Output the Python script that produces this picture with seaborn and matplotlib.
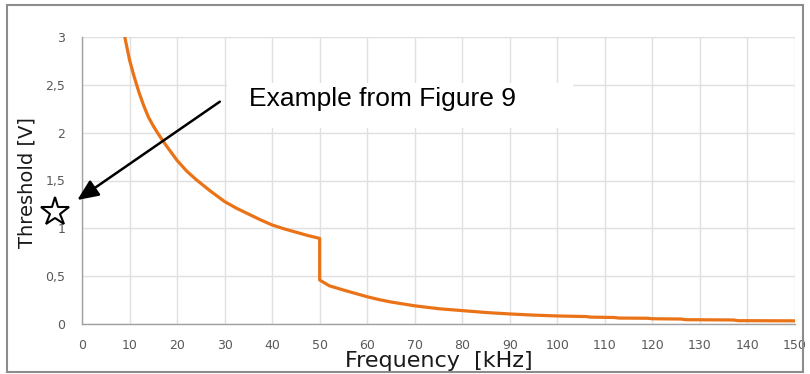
import matplotlib
matplotlib.use("Agg")
import matplotlib.pyplot as plt
from matplotlib.patches import Rectangle
import pandas as pd
import seaborn as sns

# Threshold curve: frequency (kHz) vs threshold (V)
freq_khz = [9, 10, 11, 12, 13, 14, 15, 16, 17.5, 20, 22, 24, 27, 30, 32.5,
            35, 37.5, 40, 42.5, 45, 47.5, 50, 50, 52, 55, 57.5, 60, 62.5, 65,
            67.5, 70, 75, 80, 85, 90, 95, 100, 106, 107, 112, 113, 119, 120,
            126, 127, 137, 138, 150]
threshold_v = [3.00, 2.76, 2.58, 2.42, 2.28, 2.16, 2.07, 1.99, 1.88, 1.71,
               1.60, 1.51, 1.39, 1.28, 1.21, 1.15, 1.09, 1.035, 0.995, 0.96,
               0.925, 0.895, 0.46, 0.40, 0.355, 0.32, 0.285, 0.255, 0.23,
               0.21, 0.19, 0.16, 0.14, 0.12, 0.105, 0.093, 0.084, 0.078,
               0.072, 0.068, 0.062, 0.060, 0.055, 0.052, 0.045, 0.042, 0.035,
               0.033]

x_ticks = list(range(0, 151, 10))
y_ticks = [0, 0.5, 1, 1.5, 2, 2.5, 3]
y_tick_labels = ["0", "0,5", "1", "1,5", "2", "2,5", "3"]

annotation_text = "Example from Figure 9"
example_point = (-5.6, 1.17)

df = pd.DataFrame({"Frequency": freq_khz, "Threshold": threshold_v})

sns.set_style("white")
plt.rcParams["font.family"] = ["DejaVu Sans"]

fig = plt.figure(figsize=(8.1, 3.74), dpi=100)
ax = fig.add_axes([82 / 810, 1 - 324 / 374, (795 - 82) / 810, (324 - 37) / 374])

sns.lineplot(data=df, x="Frequency", y="Threshold", ax=ax, color="#EA7317",
             linewidth=2.3, estimator=None, sort=False, zorder=3)

ax.set_xlim(0, 150)
ax.set_ylim(0, 3)
ax.set_xticks(x_ticks)
ax.set_yticks(y_ticks)
ax.set_yticklabels(y_tick_labels)
ax.set_xlabel("")
ax.set_ylabel("")

ax.set_axisbelow(True)
ax.grid(True, color="#E0E0E0", linewidth=1.0)
for side in ("top", "right"):
    ax.spines[side].set_visible(False)
for side in ("left", "bottom"):
    ax.spines[side].set_color("#A0A0A0")
    ax.spines[side].set_linewidth(1.0)
ax.tick_params(axis="both", direction="out", length=4, width=1,
               color="#A0A0A0", labelcolor="#595959", labelsize=9)
ax.tick_params(axis="x", pad=7)
ax.tick_params(axis="y", pad=8)

# white label box over the grid
ax.add_patch(Rectangle((30.5, 2.05), 72.8, 0.47, facecolor="white",
                       edgecolor="none", zorder=1))
ax.text(35.1, 2.279, annotation_text, family="Liberation Sans", fontsize=19,
        color="black", va="baseline", ha="left", zorder=4)

ax.annotate("", xy=(-0.99, 1.296), xytext=(29.0, 2.324),
            arrowprops=dict(arrowstyle="-|>,head_length=0.8,head_width=0.35",
                            color="black", lw=1.8, mutation_scale=16,
                            shrinkA=0, shrinkB=0),
            annotation_clip=False, zorder=5)

ax.plot([example_point[0]], [example_point[1]], marker="*", markersize=21.5,
        markerfacecolor="white", markeredgecolor="black",
        markeredgewidth=1.5, clip_on=False, zorder=6)

fig.text(438.5 / 810, 1 - 366.7 / 374, "Frequency  [kHz]", fontsize=16,
         ha="center", va="baseline", color="#1a1a1a")
fig.text(27 / 810, 0.511, "Threshold [V]", fontsize=14, rotation=90,
         ha="center", va="center", color="#1a1a1a")

fig.add_artist(Rectangle((7 / 810, 1 - 372 / 374), 796 / 810, 367 / 374,
                         transform=fig.transFigure, facecolor="none",
                         edgecolor="#8c8c8c", linewidth=1.5))

fig.savefig("out.png", dpi=100)
